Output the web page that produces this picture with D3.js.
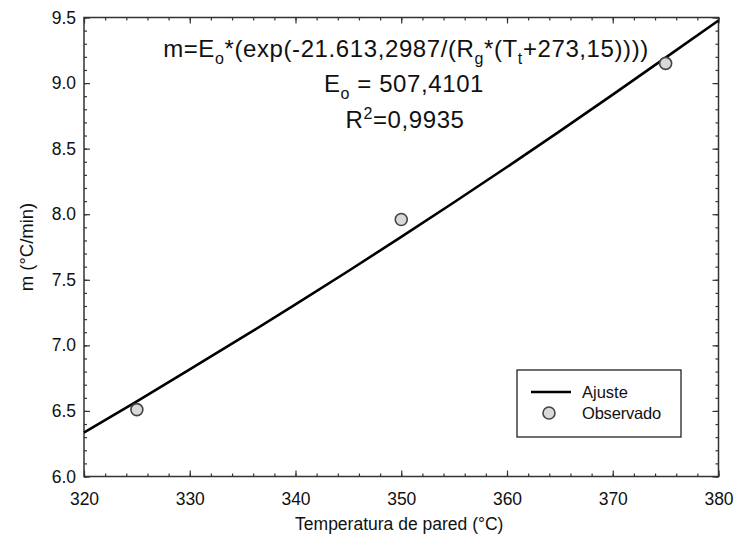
<!DOCTYPE html>
<html><head><meta charset="utf-8">
<script src="https://cdn.jsdelivr.net/npm/d3@7"></script>
<style>body{margin:0;background:#fff}svg{display:block}text{font-family:"Liberation Sans",Arial,sans-serif;fill:#111}</style>
</head><body><svg id="c" width="735" height="544"></svg>
<script>
// Fitted curve (Ajuste)
const fitT = [320,325,330,335,340,345,350,355,360,365,370,375,380];
const fitM = [6.336,6.573,6.816,7.062,7.312,7.567,7.827,8.091,8.360,8.634,8.912,9.194,9.477];
// Observed points
const obsT = [325,350,375];
const obsM = [6.51,7.96,9.15];
const xTicks = [320,330,340,350,360,370,380];
const yTicks = [6.0,6.5,7.0,7.5,8.0,8.5,9.0,9.5];
const xLabel = "Temperatura de pared (°C)";
const yLabel = "m (°C/min)";
const legendLabels = ["Ajuste","Observado"];

const svg = d3.select("#c");
const L=84,R=718.5,T=17.5,B=476.5;
const x = d3.scaleLinear().domain([320,380]).range([L,R]);
const y = d3.scaleLinear().domain([6,9.5]).range([B,T]);

const g = svg.append("g");
function axisStyle(sel){sel.select(".domain").remove();sel.selectAll("line").attr("stroke","#333").attr("stroke-width",1.2);sel.selectAll("text").attr("font-size",17.5).attr("fill","#111");}
const xMinor = d3.range(320,380.01,2);
const yMinor = d3.range(6,9.501,0.1);
// bottom
g.append("g").attr("transform",`translate(0,${B})`).call(d3.axisBottom(x).tickValues(xMinor).tickSize(-3).tickFormat("")).call(axisStyle);
g.append("g").attr("transform",`translate(0,${B})`).call(d3.axisBottom(x).tickValues(xTicks).tickSize(-6).tickPadding(16).tickFormat(d3.format("d"))).call(axisStyle);
// top
g.append("g").attr("transform",`translate(0,${T})`).call(d3.axisTop(x).tickValues(xMinor).tickSize(-3).tickFormat("")).call(axisStyle);
g.append("g").attr("transform",`translate(0,${T})`).call(d3.axisTop(x).tickValues(xTicks).tickSize(-6).tickFormat("")).call(axisStyle);
// left
g.append("g").attr("transform",`translate(${L},0)`).call(d3.axisLeft(y).tickValues(yMinor).tickSize(-3).tickFormat("")).call(axisStyle);
g.append("g").attr("transform",`translate(${L},0)`).call(d3.axisLeft(y).tickValues(yTicks).tickSize(-6).tickPadding(8).tickFormat(d3.format(".1f"))).call(axisStyle);
// right
g.append("g").attr("transform",`translate(${R},0)`).call(d3.axisRight(y).tickValues(yMinor).tickSize(-3).tickFormat("")).call(axisStyle);
g.append("g").attr("transform",`translate(${R},0)`).call(d3.axisRight(y).tickValues(yTicks).tickSize(-6).tickFormat("")).call(axisStyle);
// frame
g.append("rect").attr("x",L).attr("y",T).attr("width",R-L).attr("height",B-T).attr("fill","none").attr("stroke","#333").attr("stroke-width",1.5);

// curve
const fit = fitT.map((t,i)=>[t,fitM[i]]);
g.append("path").datum(fit).attr("d",d3.line().x(d=>x(d[0])).y(d=>y(d[1])).curve(d3.curveMonotoneX))
 .attr("fill","none").attr("stroke","#000").attr("stroke-width",2.6);
// points
g.selectAll("circle.obs").data(obsT.map((t,i)=>[t,obsM[i]])).enter().append("circle")
 .attr("cx",d=>x(d[0])).attr("cy",d=>y(d[1])).attr("r",6).attr("fill","#d9d9d9").attr("stroke","#444").attr("stroke-width",1.6);

// axis titles
svg.append("text").attr("x",(L+R)/2 - 2).attr("y",530).attr("text-anchor","middle").attr("font-size",17.5).text(xLabel);
svg.append("text").attr("transform",`translate(33,${(T+B)/2}) rotate(-90)`).attr("text-anchor","middle").attr("font-size",18.5).text(yLabel);

// equation
const eqFs = 24, subFs = 16;
const eq = svg.append("text").attr("x",406).attr("y",57).attr("text-anchor","middle").attr("font-size",eqFs).attr("letter-spacing",0.6);
eq.append("tspan").text("m=E");
eq.append("tspan").attr("font-size",subFs).attr("dy",7).text("o");
eq.append("tspan").attr("dy",-7).text("*(exp(-21.613,2987/(R");
eq.append("tspan").attr("font-size",subFs).attr("dy",7).text("g");
eq.append("tspan").attr("dy",-7).text("*(T");
eq.append("tspan").attr("font-size",subFs).attr("dy",7).text("t");
eq.append("tspan").attr("dy",-7).text("+273,15))))");
const e2 = svg.append("text").attr("x",404).attr("y",92).attr("text-anchor","middle").attr("font-size",eqFs).attr("letter-spacing",0.6);
e2.append("tspan").text("E");
e2.append("tspan").attr("font-size",subFs).attr("dy",7).text("o");
e2.append("tspan").attr("dy",-7).text(" = 507,4101");
const e3 = svg.append("text").attr("x",405).attr("y",128).attr("text-anchor","middle").attr("font-size",eqFs).attr("letter-spacing",0.6);
e3.append("tspan").text("R");
e3.append("tspan").attr("font-size",subFs).attr("dy",-9).text("2");
e3.append("tspan").attr("dy",9).text("=0,9935");

// legend
const lg = svg.append("g");
lg.append("rect").attr("x",517).attr("y",370).attr("width",164).attr("height",67).attr("fill","#fff").attr("stroke","#222").attr("stroke-width",1.3);
lg.append("line").attr("x1",531).attr("x2",571).attr("y1",392).attr("y2",392).attr("stroke","#000").attr("stroke-width",2.6);
lg.append("circle").attr("cx",549).attr("cy",413).attr("r",6).attr("fill","#d9d9d9").attr("stroke","#444").attr("stroke-width",1.6);
lg.append("text").attr("x",582).attr("y",398).attr("font-size",16.5).text(legendLabels[0]);
lg.append("text").attr("x",582).attr("y",419).attr("font-size",16.5).attr("letter-spacing",-0.2).text(legendLabels[1]);
</script></body></html>
